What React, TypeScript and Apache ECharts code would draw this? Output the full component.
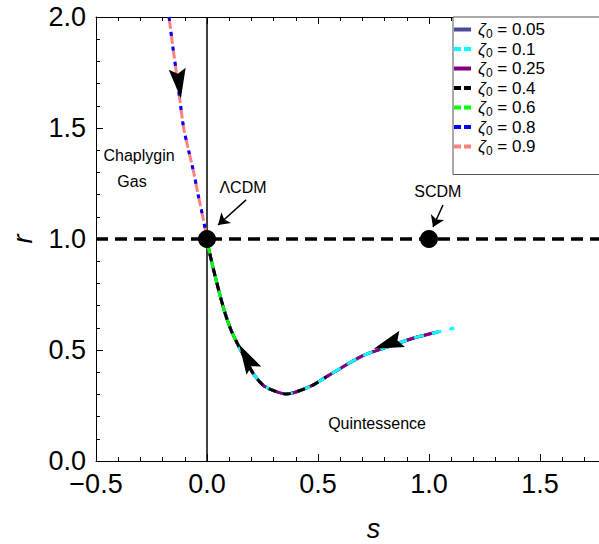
import React, { useEffect, useRef } from "react";
import * as echarts from "echarts";

// ---- data ----
const FONT = "'Liberation Sans', Arial, Helvetica, sans-serif";

// Chaplygin-gas branch (s, r)
const chapS = [-0.171, -0.155, -0.138, -0.122, -0.105, -0.083, -0.06, -0.04, -0.019, 0];
const chapR = [2.0, 1.875, 1.75, 1.625, 1.5, 1.4, 1.3, 1.2, 1.1, 1.0];

// Quintessence branch (s, r)
const quintS = [0, 0.009, 0.041, 0.077, 0.108, 0.14, 0.173, 0.207, 0.252, 0.3, 0.356, 0.401, 0.477, 0.536, 0.604, 0.707, 0.815, 0.932, 1.04, 1.113];
const quintR = [1.0, 0.95, 0.815, 0.68, 0.59, 0.523, 0.459, 0.396, 0.342, 0.317, 0.302, 0.311, 0.342, 0.378, 0.419, 0.477, 0.514, 0.554, 0.581, 0.599];

// legend entries
const zetaNames = ["ζ0 = 0.05", "ζ0 = 0.1", "ζ0 = 0.25", "ζ0 = 0.4", "ζ0 = 0.6", "ζ0 = 0.8", "ζ0 = 0.9"];
const zetaColors = ["#4b4b9a", "#00ffff", "#800080", "#000000", "#00ff00", "#0000ff", "#ff8080"];
const zetaDashed = [false, true, false, true, true, true, true];

// extent of each zeta0 curve along the quintessence branch (max s)
const quintEnd005 = 1.04;
const quintEnd01 = 1.113;
const quintEnd025 = 1.045;
const quintEnd04 = 0.55;
const quintEnd06 = 0.14;

// fixed points
const fixedS = [0, 1];
const fixedR = [1, 1];

// flow arrows: position and direction (degrees, counter-clockwise from up)
const arrowS = [-0.126, 0.178, 0.815];
const arrowR = [1.7, 0.466, 0.528];
const arrowAngle = [187, 29.5, 109];

// annotation labels
const labelTexts = ["Chaplygin", "Gas", "ΛCDM", "SCDM", "Quintessence"];
const labelS = [-0.306, -0.338, 0.162, 1.04, 0.766];
const labelR = [1.374, 1.257, 1.23, 1.216, 0.171];

// annotation pointer arrows [from, to]
const pointerFrom = [[0.176, 1.176], [1.063, 1.153]];
const pointerTo = [[0.05, 1.063], [1.018, 1.054]];

const SOLID_ICON = "path://M0 0H17V4H0Z";
const DASH_ICON = "path://M0 0H7V4H0Z M10 0H17V4H10Z";
const ARROW_HEAD = "path://M9 0L18 30L9 25L0 30Z";

function branch(s: number[], r: number[], sMax: number) {
  const out: number[][] = [];
  for (let i = 0; i < s.length; i++) {
    if (s[i] <= sMax + 1e-9) out.push([s[i], r[i]]);
  }
  return out;
}

function fmt(v: number) {
  const t = Math.abs(v).toFixed(1);
  return v < 0 ? "\u2212" + t : t;
}

export default function App() {
  const ref = useRef<HTMLDivElement>(null);
  useEffect(() => {
    if (!ref.current) return;
    const chart = echarts.init(ref.current, null, { renderer: "svg" });
    const chap = branch(chapS, chapR, 10);
    const lw = 3;
    const curve = (idx: number, data: number[][], type: any, z: number, dashOffset = 0) => ({
      name: zetaNames[idx],
      type: "line",
      data,
      smooth: 0.3,
      symbol: "none",
      z,
      lineStyle: { color: zetaColors[idx], width: lw, type, dashOffset, cap: "butt" },
      itemStyle: { color: zetaColors[idx] },
    });
    const axisCommon = {
      type: "value",
      axisLine: { show: true, onZero: false, lineStyle: { color: "#000", width: 1 } },
      axisTick: { show: true, inside: true, length: 7, lineStyle: { color: "#000", width: 1 } },
      minorTick: { show: true, splitNumber: 5, length: 4, lineStyle: { color: "#000", width: 1 } },
      splitLine: { show: false },
      minorSplitLine: { show: false },
    };
    chart.setOption({
      animation: false,
      backgroundColor: "#fff",
      textStyle: { fontFamily: FONT },
      grid: { left: 96, right: 9, top: 17, bottom: 83, outerBoundsMode: "none", containLabel: false },
      xAxis: [
        {
          ...axisCommon,
          min: -0.5,
          max: 2.0,
          interval: 0.5,
          position: "bottom",
          name: "s",
          nameLocation: "middle",
          nameGap: 54,
          nameTextStyle: { fontSize: 27, fontStyle: "italic", color: "#000", fontFamily: FONT },
          axisLabel: {
            fontSize: 27,
            color: "#000",
            margin: 9,
            fontFamily: FONT,
            showMaxLabel: false,
            formatter: (v: number) => fmt(v),
          },
        },
        {
          ...axisCommon,
          min: -0.5,
          max: 2.0,
          interval: 0.5,
          position: "top",
          axisLabel: { show: false },
        },
      ],
      yAxis: [
        {
          ...axisCommon,
          min: 0,
          max: 2,
          interval: 0.5,
          position: "left",
          name: "r",
          nameLocation: "middle",
          nameGap: 60,
          nameTextStyle: { fontSize: 27, fontStyle: "italic", color: "#000", fontFamily: FONT },
          axisLabel: { fontSize: 27, color: "#000", margin: 10, fontFamily: FONT, formatter: (v: number) => fmt(v) },
        },
        {
          ...axisCommon,
          min: 0,
          max: 2,
          interval: 0.5,
          position: "right",
          axisLabel: { show: false },
        },
      ],
      legend: {
        data: zetaNames.map((n, i) => ({
          name: n,
          icon: zetaDashed[i] ? DASH_ICON : SOLID_ICON,
          itemStyle: { color: zetaColors[i] },
        })),
        orient: "vertical",
        left: 453,
        top: 17,
        padding: [4, 70, 18, 1],
        itemWidth: 17,
        itemHeight: 4,
        itemGap: 1,
        borderColor: "#555",
        borderWidth: 1,
        backgroundColor: "#fff",
        selectedMode: false,
        formatter: (n: string) => n.replace(/^ζ0/, "{z|ζ}{sub|0}"),
        textStyle: {
          fontSize: 17,
          color: "#000",
          fontFamily: FONT,
          padding: [0, 0, 0, 2],
          rich: {
            z: { fontSize: 17, fontStyle: "italic", fontFamily: FONT, color: "#000" },
            sub: { fontSize: 12, fontFamily: FONT, color: "#000", verticalAlign: "bottom", padding: [8, 0, 0, 0] },
          },
        },
      },
      series: [
        {
          name: "s0",
          type: "line",
          data: [[0, 0], [0, 2]],
          symbol: "none",
          z: 1,
          lineStyle: { color: "#000", width: 1.5 },
          silent: true,
        },
        {
          name: "r1",
          type: "line",
          data: [[-0.5, 1], [2.0, 1]],
          symbol: "none",
          z: 2,
          lineStyle: { color: "#000", width: 3.5, type: [12, 7] },
          silent: true,
        },
        curve(0, branch(quintS, quintR, quintEnd005), "solid", 3),
        curve(2, branch(quintS, quintR, quintEnd025), "solid", 4),
        curve(1, branch(quintS, quintR, quintEnd01), [10, 8], 5),
        curve(4, branch(quintS, quintR, quintEnd06), [8, 7], 6, 7),
        curve(3, branch(quintS, quintR, quintEnd04), [8, 7], 7),
        curve(6, chap, [12, 3], 8),
        curve(5, chap, [4, 11], 9),
        {
          name: "pointers",
          type: "lines",
          coordinateSystem: "cartesian2d",
          z: 10,
          symbol: ["none", "arrow"],
          symbolSize: 11,
          lineStyle: { color: "#000", width: 1.5, opacity: 1 },
          data: pointerFrom.map((f, i) => ({ coords: [f, pointerTo[i]] })),
          silent: true,
        },
        {
          name: "fixed",
          type: "scatter",
          z: 11,
          symbol: "circle",
          symbolSize: 18,
          itemStyle: { color: "#000", opacity: 1 },
          data: fixedS.map((s, i) => [s, fixedR[i]]),
          silent: true,
        },
        {
          name: "flow",
          type: "scatter",
          z: 12,
          symbol: ARROW_HEAD,
          symbolSize: [17, 30],
          itemStyle: { color: "#000", opacity: 1 },
          data: arrowS.map((s, i) => ({ value: [s, arrowR[i]], symbolRotate: arrowAngle[i] })),
          silent: true,
        },
        {
          name: "labels",
          type: "scatter",
          z: 13,
          symbolSize: 0,
          itemStyle: { opacity: 1 },
          data: labelS.map((s, i) => ({ value: [s, labelR[i]], name: labelTexts[i] })),
          label: {
            show: true,
            position: "inside",
            formatter: (p: any) => p.name,
            fontSize: 16,
            color: "#000",
            fontFamily: FONT,
          },
          silent: true,
        },
      ],
    });
    return () => chart.dispose();
  }, []);
  return (
    <div style={{ position: "fixed", left: 0, top: 0, width: 599, height: 544, overflow: "hidden", background: "#fff" }}>
      <div ref={ref} style={{ width: 660, height: 544 }} />
    </div>
  );
}
